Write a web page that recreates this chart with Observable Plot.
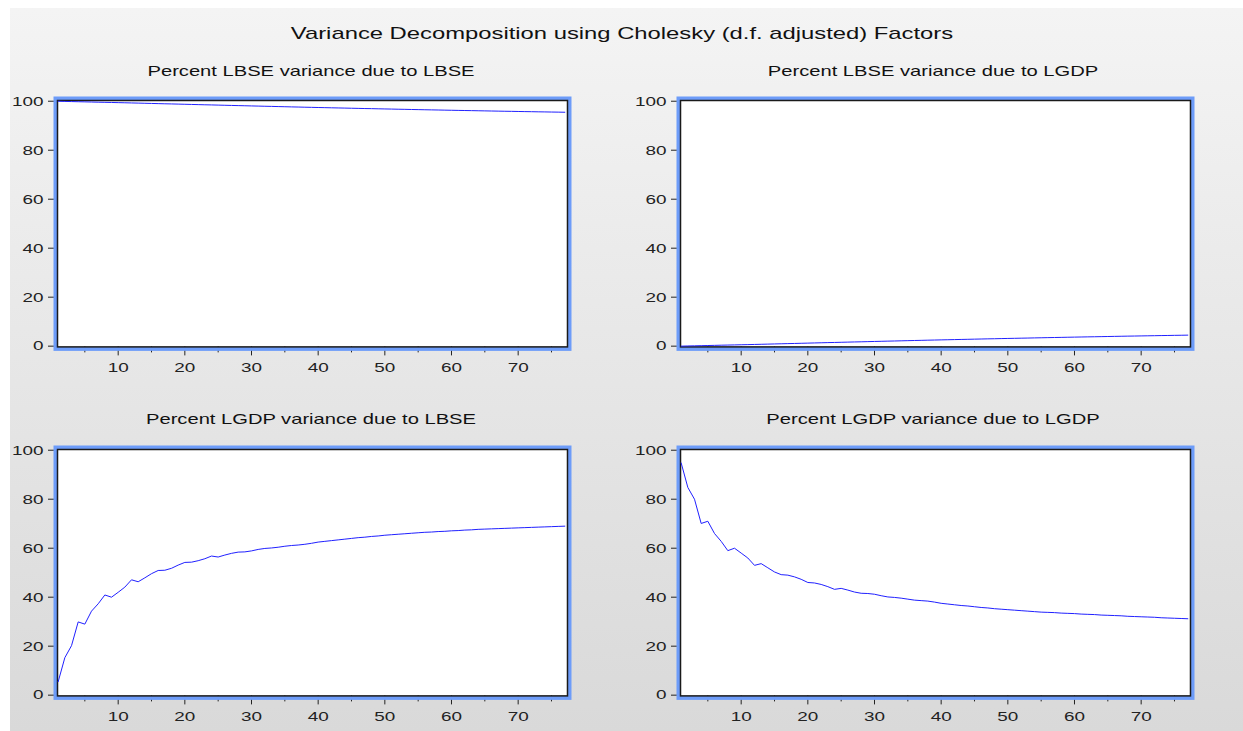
<!DOCTYPE html>
<html><head><meta charset="utf-8">
<script src="https://cdn.jsdelivr.net/npm/d3@7"></script>
<script src="https://cdn.jsdelivr.net/npm/@observablehq/plot@0.6"></script>
<style>
body{margin:0;background:#fff;}
#page{position:relative;width:1243px;height:731px;overflow:hidden;font-family:"Liberation Sans",Arial,sans-serif;}
#bg{position:absolute;left:10px;top:8px;right:0;bottom:0;background:linear-gradient(#f4f4f4,#d9d9d9);}
.t{position:absolute;white-space:nowrap;color:#111;transform:translate(-50%,-50%) scaleX(1.4);line-height:1;}
.panel{position:absolute;}
</style></head><body><div id="page"><div id="bg"></div></div>
<script>
const mainTitle = "Variance Decomposition using Cholesky (d.f. adjusted) Factors";
const panelTitles = [
  "Percent LBSE variance due to LBSE",
  "Percent LBSE variance due to LGDP",
  "Percent LGDP variance due to LBSE",
  "Percent LGDP variance due to LGDP"
];
const periods = d3.range(1, 78);
const xMajorTicks = [10, 20, 30, 40, 50, 60, 70];
const xMinorTicks = [5, 15, 25, 35, 45, 55, 65, 75];
const yTicks = [0, 20, 40, 60, 80, 100];

const lbseDueLbse = [100.00, 99.92, 99.86, 99.80, 99.74, 99.68, 99.61, 99.55, 99.49, 99.43, 99.37, 99.30, 99.24, 99.17, 99.10, 99.03, 98.96, 98.90, 98.83, 98.76, 98.69, 98.62, 98.55, 98.49, 98.42, 98.35, 98.28, 98.22, 98.15, 98.08, 98.02, 97.95, 97.89, 97.82, 97.76, 97.69, 97.63, 97.56, 97.50, 97.44, 97.38, 97.32, 97.26, 97.20, 97.14, 97.08, 97.02, 96.97, 96.91, 96.85, 96.80, 96.74, 96.69, 96.63, 96.58, 96.52, 96.47, 96.42, 96.36, 96.31, 96.26, 96.21, 96.16, 96.11, 96.06, 96.01, 95.96, 95.91, 95.87, 95.82, 95.77, 95.73, 95.68, 95.64, 95.59, 95.55, 95.50];
const lbseDueLgdp = [0.00, 0.08, 0.14, 0.20, 0.26, 0.32, 0.39, 0.45, 0.51, 0.57, 0.63, 0.70, 0.76, 0.83, 0.90, 0.97, 1.04, 1.10, 1.17, 1.24, 1.31, 1.38, 1.45, 1.51, 1.58, 1.65, 1.72, 1.78, 1.85, 1.92, 1.98, 2.05, 2.11, 2.18, 2.24, 2.31, 2.37, 2.44, 2.50, 2.56, 2.62, 2.68, 2.74, 2.80, 2.86, 2.92, 2.98, 3.03, 3.09, 3.15, 3.20, 3.26, 3.31, 3.37, 3.42, 3.48, 3.53, 3.58, 3.64, 3.69, 3.74, 3.79, 3.84, 3.89, 3.94, 3.99, 4.04, 4.09, 4.13, 4.18, 4.23, 4.27, 4.32, 4.36, 4.41, 4.45, 4.50];
const lgdpDueLbse = [5.5, 15.3, 20.2, 29.9, 29.0, 34.3, 37.3, 40.9, 40.0, 42.0, 44.1, 47.1, 46.3, 47.9, 49.6, 50.9, 51.0, 51.8, 53.1, 54.2, 54.3, 54.9, 55.7, 56.8, 56.4, 57.2, 57.9, 58.4, 58.5, 58.9, 59.5, 59.9, 60.1, 60.4, 60.8, 61.1, 61.3, 61.6, 62.0, 62.5, 62.8, 63.1, 63.4, 63.7, 64.0, 64.3, 64.5, 64.8, 65.0, 65.3, 65.5, 65.7, 65.9, 66.1, 66.3, 66.5, 66.6, 66.8, 66.9, 67.1, 67.2, 67.4, 67.5, 67.7, 67.8, 67.9, 68.0, 68.1, 68.2, 68.3, 68.4, 68.5, 68.6, 68.7, 68.8, 68.9, 69.0];
const lgdpDueLgdp = [94.8, 84.8, 80.0, 70.1, 71.0, 66.0, 62.8, 59.0, 60.0, 58.0, 56.0, 53.0, 53.7, 52.0, 50.3, 49.2, 49.0, 48.3, 47.3, 46.0, 45.8, 45.2, 44.3, 43.2, 43.6, 42.9, 42.1, 41.6, 41.5, 41.2, 40.6, 40.1, 39.9, 39.6, 39.2, 38.8, 38.6, 38.4, 38.0, 37.5, 37.2, 36.9, 36.6, 36.4, 36.1, 35.8, 35.6, 35.3, 35.1, 34.9, 34.7, 34.5, 34.3, 34.1, 33.9, 33.8, 33.7, 33.5, 33.4, 33.3, 33.1, 33.0, 32.9, 32.7, 32.6, 32.5, 32.4, 32.2, 32.1, 32.0, 31.9, 31.8, 31.6, 31.5, 31.4, 31.3, 31.2];

const series = [lbseDueLbse, lbseDueLgdp, lgdpDueLbse, lgdpDueLgdp];
const page = document.getElementById("page");
const SX = 1.4;

function addText(txt, cx, cy, size) {
  const d = document.createElement("div");
  d.className = "t";
  d.textContent = txt;
  d.style.left = cx + "px";
  d.style.top = cy + "px";
  d.style.fontSize = size + "px";
  page.appendChild(d);
}

function stretchText(svg) {
  svg.querySelectorAll('g[aria-label$="tick label"] text').forEach(t => {
    const tr = t.getAttribute("transform") || "";
    const x = t.getAttribute("x");
    let extra = "";
    if (x !== null && !isNaN(+x)) { extra = ` translate(${+x},0)`; t.removeAttribute("x"); }
    t.setAttribute("transform", `${tr}${extra} scale(${SX},1)`);
  });
}

const positions = [[0, 80], [623, 80], [0, 429.3], [623, 429.3]];
const titleCenters = [[311, 71], [933, 71], [311, 419], [933, 419]];

addText(mainTitle, 622, 33, 17);

series.forEach((vals, k) => {
  const data = periods.map((p, i) => ({p, v: vals[i]}));
  const svg = Plot.plot({
    width: 600, height: 306.4,
    marginLeft: 57, marginRight: 33, marginTop: 20, marginBottom: 40,
    style: {background: "transparent", fontFamily: "Liberation Sans, Arial, sans-serif", fontSize: "13.5px", color: "#222", overflow: "visible"},
    x: {domain: [0.9, 77.4], label: null},
    y: {domain: [-0.3, 100.3], label: null},
    marks: [
      Plot.frame({fill: "white"}),
      Plot.axisY(yTicks, {tickSize: 9, tickPadding: 5, label: null}),
      Plot.axisX(xMajorTicks, {tickSize: 9, tickPadding: 7, label: null}),
      Plot.axisX(xMinorTicks, {tickSize: 6, tickFormat: () => "", label: null}),
      Plot.frame({stroke: "#6d9cf9", strokeWidth: 4, inset: -2}),
      Plot.frame({stroke: "#1a1a1a", strokeWidth: 1.5}),
      Plot.line(data, {x: "p", y: "v", stroke: "#1f1fff", strokeWidth: 1})
    ]
  });
  stretchText(svg);
  const wrap = document.createElement("div");
  wrap.className = "panel";
  wrap.style.left = positions[k][0] + "px";
  wrap.style.top = positions[k][1] + "px";
  wrap.appendChild(svg);
  page.appendChild(wrap);
  addText(panelTitles[k], titleCenters[k][0], titleCenters[k][1], 14.4);
});
</script></body></html>
